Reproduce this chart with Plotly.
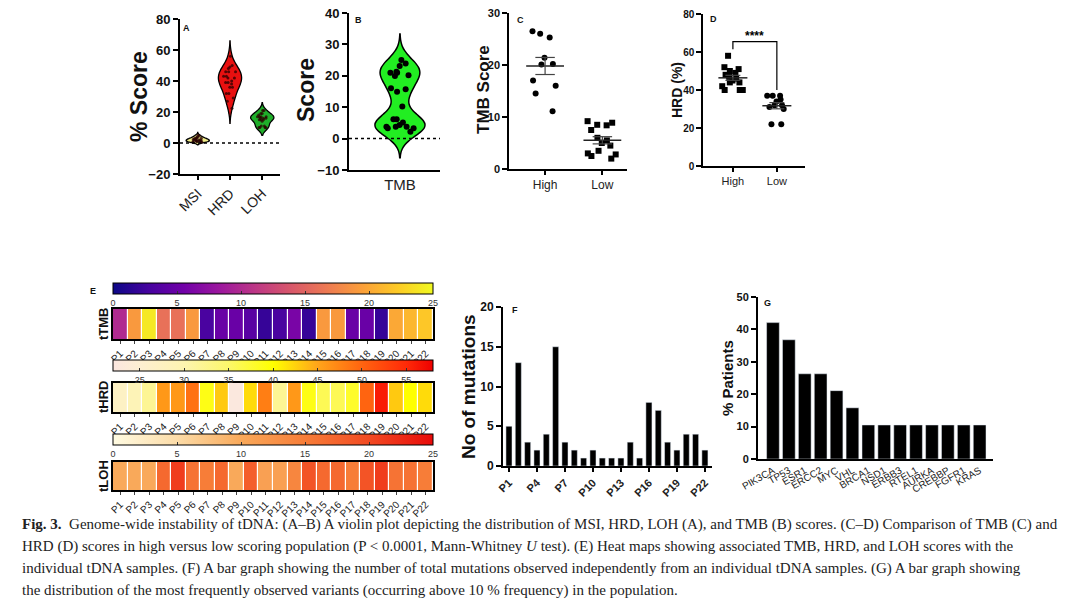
import numpy as np
import plotly.graph_objects as go

W, H = 1080, 614
def fx(px): return px / W
def fy(py): return 1 - py / H

# ---------------- data ----------------
patients = [f"P{i}" for i in range(1, 23)]
t_tmb = [10, 19, 24, 16, 16, 19, 3, 5, 5, 4, 2, 3, 6, 2, 19, 19, 5, 5, 2, 20, 21, 22]
t_hrd = [27, 29, 32, 46, 46, 49, 39, 43, 22.5, 42, 48, 32, 46, 39, 36, 36, 38, 50, 56, 43, 40, 42]
t_loh = [10, 10, 10, 17, 21, 16, 15, 17, 10, 18, 11, 11, 14, 19, 17, 17, 15, 19, 21, 16, 16, 15]
msi = [1.0, 2.0, 0.5, 3.0, 1.5, 2.5, 4.0, 1.0, 2.0, 3.5, 0.5, 5.0, 1.5, 2.0, 3.0, 1.0, 2.5, 4.5, 1.0, 2.0, 0.8, 3.0]
violin_cats = ["MSI", "HRD", "LOH"]
tmb_violin = [23.1, 25.0, 23.9, 21.0, 21.0, 20.2, 21.3, 19.9, 16.0, 14.9, 15.7, 10.2,
              6.2, 6.2, 4.3, 3.8, 3.8, 3.3, 3.8, 3.3, 5.1, 2.2]
groups = ["High", "Low"]
tmb_high = [26.5, 26.0, 25.3, 21.4, 20.2, 20.1, 17.0, 16.0, 14.5, 11.1]
tmb_low = [9.2, 8.9, 8.5, 8.4, 7.5, 6.0, 5.5, 5.0, 4.5, 3.5, 3.0, 2.8, 2.5, 2.0]
hrd_high = [58, 52, 51, 50, 49, 48, 47, 46, 45, 44, 44, 42, 40, 40, 40]
hrd_low = [37, 37, 37, 35, 34, 32, 32, 31, 30, 22, 22]
mutations = [5, 13, 3, 2, 4, 15, 3, 2, 1, 2, 1, 1, 1, 3, 1, 8, 7, 3, 2, 4, 4, 2]
genes = ["PIK3CA", "TP53", "ESR1", "ERCC2", "MYC", "VHL", "BRCA1", "NSD1", "ERBB3",
         "RTEL1", "AURKA", "CREBBP", "FGFR1", "KRAS"]
gene_pct = [42.1, 36.8, 26.3, 26.3, 21.1, 15.8, 10.5, 10.5, 10.5, 10.5, 10.5, 10.5, 10.5, 10.5]

FONT = "Arial, Liberation Sans, sans-serif"
fig = go.Figure()

# ---------------- A: violins ----------------
a_fill = ["#f2ee8a", "#e81010", "#1fae2a"]
a_bw = [0.8, 4.5, 2.3]
for i, (vals, col, bw) in enumerate(zip([msi, t_hrd, t_loh], a_fill, a_bw)):
    fig.add_trace(go.Violin(y=vals, x0=i, xaxis="x", yaxis="y", fillcolor=col,
                            line=dict(color="black", width=1.3), bandwidth=bw,
                            width=0.72, points="all", pointpos=0, jitter=0.6,
                            marker=dict(color="rgba(40,0,0,0.75)", size=3),
                            spanmode="manual", span=[min(vals) - 2.2 * bw, max(vals) + 2.2 * bw],
                            showlegend=False, hoverinfo="y"))

# ---------------- B: violin ----------------
bw_b = 3.2
fig.add_trace(go.Violin(y=tmb_violin, x0=0, xaxis="x2", yaxis="y2", fillcolor="#22ee22",
                        line=dict(color="black", width=1.5), bandwidth=bw_b, width=0.55,
                        spanmode="manual", span=[min(tmb_violin) - 2.6 * bw_b, max(tmb_violin) + 2.6 * bw_b],
                        points="all", pointpos=0, jitter=0.8,
                        marker=dict(color="black", size=6), showlegend=False))

# ---------------- C / D: scatter dot plots ----------------
def dot_panel(xa, ya, hi, lo, sym_hi, sym_lo, msize):
    for i, (vals, sym) in enumerate([(hi, sym_hi), (lo, sym_lo)]):
        fig.add_trace(go.Box(y=vals, x0=i, xaxis=xa, yaxis=ya, boxpoints="all",
                             jitter=1.0, pointpos=0, width=0.6,
                             fillcolor="rgba(0,0,0,0)", line=dict(color="rgba(0,0,0,0)", width=0),
                             marker=dict(color="black", size=msize, symbol=sym),
                             showlegend=False))
        arr = np.array(vals, dtype=float)
        m = arr.mean()
        sem = arr.std(ddof=1) / np.sqrt(len(arr))
        fig.add_trace(go.Scatter(x=[i - 0.33, i + 0.33], y=[m, m], mode="lines",
                                 line=dict(color="#222", width=1.5), xaxis=xa, yaxis=ya,
                                 showlegend=False, hoverinfo="skip"))
        for v in (m - sem, m + sem):
            fig.add_trace(go.Scatter(x=[i - 0.17, i + 0.17], y=[v, v], mode="lines",
                                     line=dict(color="#444", width=1.2), xaxis=xa, yaxis=ya,
                                     showlegend=False, hoverinfo="skip"))
        fig.add_trace(go.Scatter(x=[i, i], y=[m - sem, m + sem], mode="lines",
                                 line=dict(color="#444", width=1.2), xaxis=xa, yaxis=ya,
                                 showlegend=False, hoverinfo="skip"))

dot_panel("x3", "y3", tmb_high, tmb_low, "circle", "square", 6)
dot_panel("x4", "y4", hrd_high, hrd_low, "square", "circle", 6)

# significance bracket in D
top = max(hrd_high) + 7.5
fig.add_trace(go.Scatter(x=[0, 0, 1, 1], y=[max(hrd_high) + 3.5, top, top, max(hrd_low) + 3],
                         mode="lines", line=dict(color="black", width=1.2),
                         xaxis="x4", yaxis="y4", showlegend=False, hoverinfo="skip"))

# ---------------- E: heatmaps ----------------
hrd_scale = [[0, "#fbe6e0"], [0.083, "#fdefd2"], [0.222, "#fdf4b0"], [0.361, "#fcf76a"],
             [0.5, "#ffff00"], [0.639, "#ffa51a"], [0.778, "#ff6410"], [0.917, "#ff2a08"], [1, "#ee0000"]]
loh_scale = [[0, "#fffbe2"], [0.2, "#fcdca8"], [0.4, "#f9a95a"], [0.6, "#f77d38"],
             [0.8, "#f24a22"], [1, "#e80a0a"]]
heat_specs = [
    ("x5", "y5", t_tmb, "Plasma", 0, 25, list(range(0, 26, 5)), 283),
    ("x6", "y6", t_hrd, hrd_scale, 22, 58, list(range(25, 56, 5)), 360),
    ("x7", "y7", t_loh, loh_scale, 0, 25, list(range(0, 26, 5)), 434),
]
for xa, ya, vals, cs, zmin, zmax, tv, cby in heat_specs:
    fig.add_trace(go.Heatmap(z=[vals], x=patients, y=[""], xaxis=xa, yaxis=ya,
                             colorscale=cs, zmin=zmin, zmax=zmax, xgap=1.2,
                             colorbar=dict(orientation="h", x=fx(273), xanchor="center",
                                           y=fy(cby), yanchor="top", len=320, lenmode="pixels",
                                           thickness=11, thicknessmode="pixels",
                                           outlinewidth=1, outlinecolor="black",
                                           xpad=0, ypad=0, tickvals=tv, ticks="inside",
                                           ticklen=3, tickcolor="#333",
                                           tickfont=dict(size=9, color="#333", family=FONT))))

# ---------------- F: bar ----------------
fig.add_trace(go.Bar(x=list(range(len(patients))), y=mutations, xaxis="x8", yaxis="y8",
                     marker=dict(color="black"), width=0.65, showlegend=False))

# ---------------- G: bar ----------------
fig.add_trace(go.Bar(x=list(range(len(genes))), y=gene_pct, xaxis="x9", yaxis="y9",
                     marker=dict(color="black"), width=0.8, showlegend=False))

# ---------------- axes ----------------
def yax(py0, py1, rng, dtick, fsize, lw=2):
    return dict(domain=[fy(py1), fy(py0)], range=rng, dtick=dtick, showgrid=False,
                zeroline=False, showline=True, linecolor="black", linewidth=lw,
                ticks="outside", ticklen=5, tickwidth=lw, tickcolor="black",
                tickfont=dict(size=fsize, color="#111", family=FONT, weight="bold"))

def xax(px0, px1, rng, tickvals, ticktext, fsize, angle=0, lw=2, ticks="outside", weight="normal"):
    return dict(domain=[fx(px0), fx(px1)], range=rng, tickvals=tickvals, ticktext=ticktext,
                showgrid=False, zeroline=False, showline=True, linecolor="black", linewidth=lw,
                ticks=ticks, ticklen=4, tickwidth=lw, tickcolor="black", tickangle=angle,
                tickfont=dict(size=fsize, color="#222", family=FONT, weight=weight))

layout = dict(
    width=W, height=H, margin=dict(l=0, r=0, t=0, b=0, autoexpand=False),
    paper_bgcolor="white", plot_bgcolor="white", violinmode="overlay", boxmode="overlay",
    showlegend=False, font=dict(family=FONT),
    xaxis=dict(**xax(180, 280, [-0.55, 2.55], [0, 1, 2], violin_cats, 14, angle=-45), anchor="y"),
    yaxis=dict(**yax(19, 174, [-20, 80], 20, 13), anchor="x"),
    xaxis2=dict(**xax(349, 440, [-0.56, 0.44], [0], ["TMB"], 15, ticks=""), anchor="y2"),
    yaxis2=dict(**yax(13, 170, [-10, 40], 10, 13), anchor="x2"),
    xaxis3=dict(**xax(509, 627, [-0.63, 1.43], [0, 1], groups, 12, lw=1.5), anchor="y3"),
    yaxis3=dict(**yax(13, 169, [0, 30], 10, 11, lw=1.5), anchor="x3"),
    xaxis4=dict(**xax(703, 805, [-0.68, 1.64], [0, 1], groups, 11, lw=1.5), anchor="y4"),
    yaxis4=dict(**yax(14, 166, [0, 80], 20, 10, lw=1.5), anchor="x4"),
    xaxis8=dict(**xax(503, 712, [-0.64, 21.76], list(range(0, 22, 3)),
                      [patients[i] for i in range(0, 22, 3)], 11, angle=-45, weight="bold"),
                anchor="y8"),
    yaxis8=dict(**yax(307, 466, [0, 20], 5, 12), anchor="x8"),
    xaxis9=dict(**xax(758, 993, [-0.94, 13.84], list(range(len(genes))), genes, 10, angle=-30,
                      ticks=""), anchor="y9"),
    yaxis9=dict(**yax(297, 459, [0, 50], 10, 11), anchor="x9"),
)
for n, (py0, py1) in zip([5, 6, 7], [(309, 339), (383, 412), (462, 490)]):
    layout[f"xaxis{n}"] = dict(domain=[fx(113), fx(433)], anchor=f"y{n}", showline=True, mirror=True,
                               linecolor="black", linewidth=1.5, ticks="outside", ticklen=3,
                               tickangle=-45, showgrid=False,
                               tickfont=dict(size=10, color="#222", family=FONT))
    layout[f"yaxis{n}"] = dict(domain=[fy(py1), fy(py0)], anchor=f"x{n}", showline=True, mirror=True,
                               linecolor="black", linewidth=1.5, showticklabels=False, ticks="",
                               showgrid=False)
fig.update_layout(**layout)

# dotted zero lines (A, B)
for xr, yr in [("x domain", "y"), ("x2 domain", "y2")]:
    fig.add_shape(type="line", xref=xr, yref=yr, x0=0, x1=1, y0=0, y1=0,
                  line=dict(color="black", width=1.5, dash="dot"))

# ---------------- text ----------------
def ann(text, px, py, size, angle=0, bold=True, color="#111", xanchor="center", family=FONT):
    fig.add_annotation(text=text, x=fx(px), y=fy(py), xref="paper", yref="paper",
                       showarrow=False, textangle=angle, xanchor=xanchor, yanchor="middle",
                       font=dict(size=size, color=color, family=family,
                                 weight="bold" if bold else "normal"))

ann("% Score", 139, 97, 23, angle=-90)
ann("Score", 306, 90, 23, angle=-90)
ann("TMB Score", 483, 90, 17, angle=-90)
ann("HRD (%)", 677, 90, 14, angle=-90)
ann("No of mutations", 469, 387, 19, angle=-90)
ann("% Patients", 727, 378, 15, angle=-90)
ann("tTMB", 103, 324, 13, angle=-90)
ann("tHRD", 103, 397, 13, angle=-90)
ann("tLOH", 103, 476, 13, angle=-90)
for lab, px, py in [("A", 187, 28), ("B", 358, 20), ("C", 520, 20), ("D", 713, 19),
                    ("E", 93, 291), ("F", 515, 310), ("G", 767, 303)]:
    ann(lab, px, py, 9)
# significance stars
fig.add_annotation(text="****", x=0.5, y=max(hrd_high) + 10.5, xref="x4", yref="y4",
                   showarrow=False, font=dict(size=12, color="black", family=FONT, weight="bold"))

caption = [
    "<b>Fig. 3.</b>  Genome-wide instability of tDNA: (A–B) A violin plot depicting the distribution of MSI, HRD, LOH (A), and TMB (B) scores. (C–D) Comparison of TMB (C) and",
    "HRD (D) scores in high versus low scoring population (P &lt; 0.0001, Mann-Whitney <i>U</i> test). (E) Heat maps showing associated TMB, HRD, and LOH scores with the",
    "individual tDNA samples. (F) A bar graph showing the number of total mutations observed independently from an individual tDNA samples. (G) A bar graph showing",
    "the distribution of the most frequently observed variants (occurring above 10 % frequency) in the population.",
]
for i, line in enumerate(caption):
    ann(line, 20, 524 + 22.3 * i, 15.0, bold=False, color="#222", xanchor="left",
        family="Liberation Serif, DejaVu Serif, serif")

fig.write_html("out.html", config={"displayModeBar": False},
               post_script="document.body.style.margin='0';document.body.style.overflow='hidden';")
